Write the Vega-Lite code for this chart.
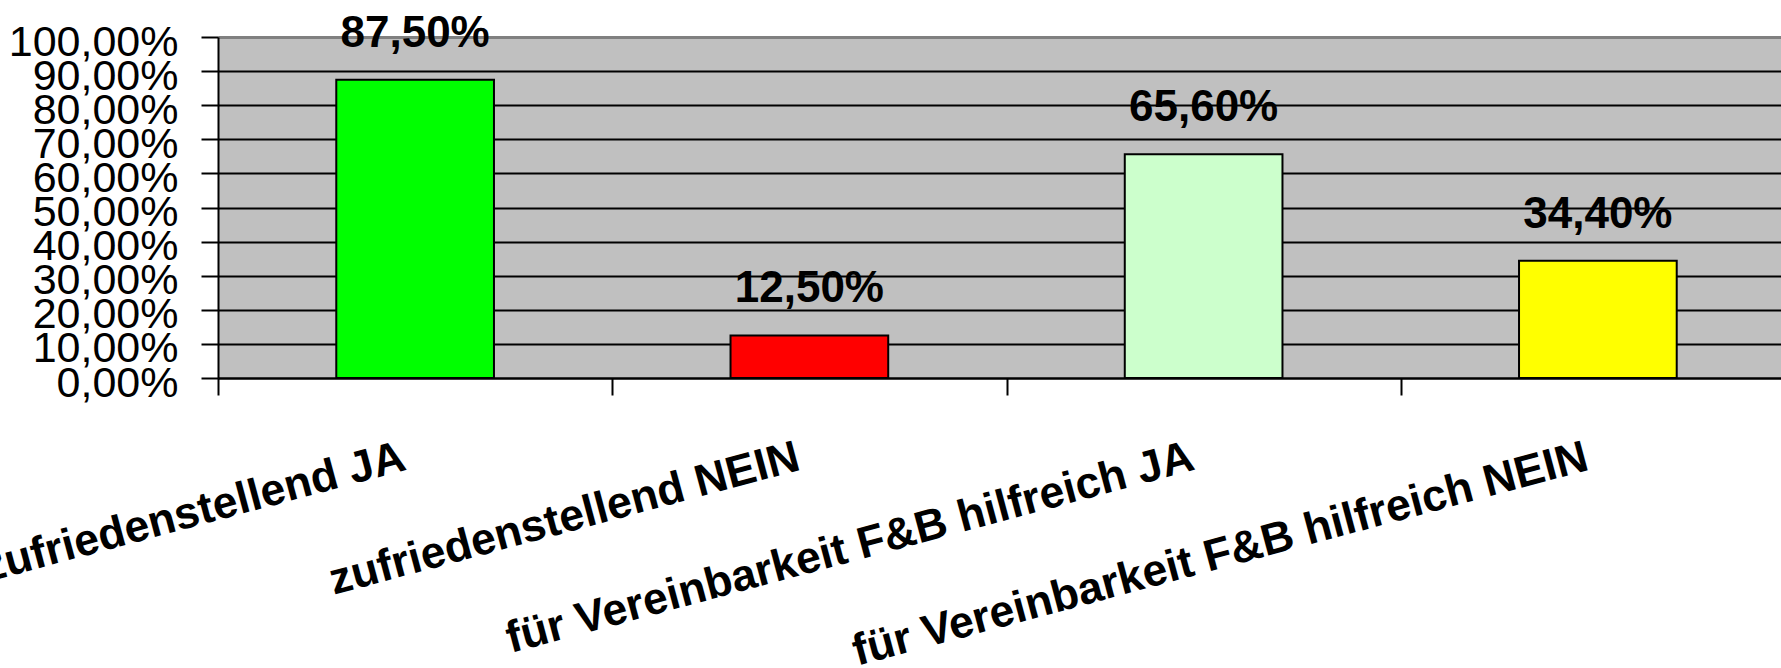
{
  "$schema": "https://vega.github.io/schema/vega-lite/v6.json",
  "autosize": {"type": "none"},
  "width": 1563,
  "height": 341,
  "padding": {"left": 218, "top": 37, "right": 0, "bottom": 290},
  "background": "white",
  "config": {
    "locale": {
      "number": {"decimal": ",", "thousands": ".", "grouping": [3], "currency": ["", " €"]}
    },
    "view": {"fill": "#C0C0C0", "stroke": null},
    "font": "Liberation Sans"
  },
  "data": {
    "values": [
      {"kategorie": "zufriedenstellend JA", "anteil": 0.875},
      {"kategorie": "zufriedenstellend NEIN", "anteil": 0.125},
      {"kategorie": "für Vereinbarkeit F&B hilfreich JA", "anteil": 0.656},
      {"kategorie": "für Vereinbarkeit F&B hilfreich NEIN", "anteil": 0.344}
    ]
  },
  "encoding": {
    "x": {
      "field": "kategorie",
      "type": "nominal",
      "sort": null,
      "scale": {"range": [0, 1577], "paddingInner": 0, "paddingOuter": 0},
      "axis": {
        "title": null,
        "tickBand": "extent",
        "domainColor": "black",
        "domainWidth": 2,
        "tickColor": "black",
        "tickWidth": 2,
        "tickSize": 17,
        "labelAngle": -15,
        "labelAlign": "right",
        "labelBaseline": "top",
        "labelPadding": 40,
        "labelOffset": -17,
        "labelFont": "Liberation Sans",
        "labelFontWeight": "bold",
        "labelFontSize": 44.5,
        "labelColor": "black",
        "labelLimit": 2000,
        "labelOverlap": false,
        "labelBound": false,
        "labelFlush": false
      }
    },
    "y": {
      "field": "anteil",
      "type": "quantitative",
      "scale": {"domain": [0, 1], "nice": false},
      "axis": {
        "title": null,
        "values": [0, 0.1, 0.2, 0.3, 0.4, 0.5, 0.6, 0.7, 0.8, 0.9, 1],
        "format": ".2%",
        "grid": true,
        "gridColor": {"condition": {"test": "datum.value >= 1", "value": "#808080"}, "value": "black"},
        "gridWidth": {"condition": {"test": "datum.value >= 1", "value": 3}, "value": 2},
        "gridOpacity": 1,
        "domainColor": "black",
        "domainWidth": 2,
        "tickColor": "black",
        "tickWidth": 2,
        "tickSize": 17,
        "labelPadding": 23,
        "labelOffset": 5,
        "labelFont": "Liberation Sans",
        "labelFontSize": 43,
        "labelColor": "black",
        "labelOverlap": false,
        "labelBound": false,
        "labelFlush": false
      }
    }
  },
  "layer": [
    {
      "mark": {"type": "bar", "stroke": "black", "strokeWidth": 2, "width": {"band": 0.4}},
      "encoding": {
        "color": {
          "field": "kategorie",
          "type": "nominal",
          "scale": {
            "domain": ["zufriedenstellend JA", "zufriedenstellend NEIN", "für Vereinbarkeit F&B hilfreich JA", "für Vereinbarkeit F&B hilfreich NEIN"],
            "range": ["#00FF00", "#FF0000", "#CCFFCC", "#FFFF00"]
          },
          "legend": null
        }
      }
    },
    {
      "mark": {"type": "text", "font": "Liberation Sans", "fontWeight": "bold", "fontSize": 44, "baseline": "alphabetic", "align": "center", "dy": -33, "color": "black"},
      "encoding": {
        "text": {"field": "anteil", "type": "quantitative", "format": ".2%"}
      }
    }
  ]
}
